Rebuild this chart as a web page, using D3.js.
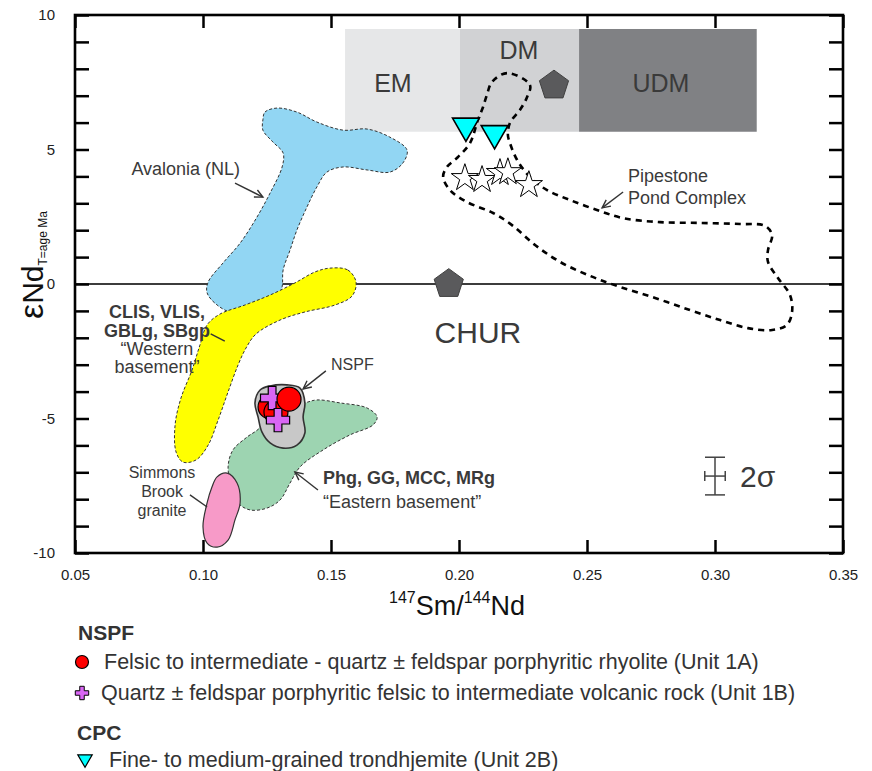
<!DOCTYPE html>
<html><head><meta charset="utf-8">
<script src="https://cdn.jsdelivr.net/npm/d3@7"></script>
<style>
body{margin:0;background:#fff;}
svg{display:block;font-family:Arial,"Liberation Sans",Helvetica,sans-serif;}
</style></head><body>
<svg id="chart" width="872" height="771"></svg>
<script>
// ---- axis ticks ----
const xTickValues = [0.05, 0.10, 0.15, 0.20, 0.25, 0.30, 0.35];
const yTickValues = d3.range(-10, 11, 1);
const yLabelValues = [-10, -5, 0, 5, 10];

// ---- mantle reservoir bands (147Sm/144Nd range, eNd range) ----
const reservoirNames = ["EM", "DM", "UDM"];
const reservoirX0 = [0.1555, 0.2004, 0.2469];
const reservoirX1 = [0.2004, 0.2469, 0.3163];
const reservoirY0 = [5.66, 5.66, 5.66];
const reservoirY1 = [9.48, 9.48, 9.48];
const reservoirLabelX = [0.1742, 0.2234, 0.2789];
const reservoirLabelY = [7.47, 8.70, 7.47];

// ---- reference reservoirs (pentagons) ----
const churPoint = [0.1960, 0.0];
const dmPoint = [0.2371, 7.38];

// ---- compiled fields: [147Sm/144Nd, eNd] outlines ----
const avaloniaField = [[0.1234,6.10],[0.1242,6.39],[0.1289,6.54],[0.1367,6.39],[0.1445,6.02],[0.1547,5.72],[0.1641,5.76],[0.1730,5.46],[0.1797,4.98],[0.1781,4.50],[0.1730,4.16],[0.1641,4.24],[0.1547,4.35],[0.1484,4.16],[0.1445,3.61],[0.1406,2.86],[0.1367,2.01],[0.1340,1.26],[0.1313,0.52],[0.1309,-0.11],[0.1289,-0.59],[0.1262,-0.78],[0.1195,-1.04],[0.1117,-1.08],[0.1055,-0.78],[0.1016,-0.33],[0.1020,0.07],[0.1078,0.78],[0.1145,1.52],[0.1211,2.49],[0.1262,3.38],[0.1309,4.35],[0.1313,4.87],[0.1273,5.28],[0.1234,5.72]];
const westernBasementField = [[0.1496,0.59],[0.1566,0.52],[0.1598,0.07],[0.1582,-0.45],[0.1516,-0.78],[0.1398,-1.04],[0.1301,-1.34],[0.1207,-1.86],[0.1168,-2.38],[0.1137,-3.01],[0.1098,-4.01],[0.1059,-5.06],[0.1020,-5.99],[0.0973,-6.54],[0.0922,-6.62],[0.0895,-6.25],[0.0891,-5.24],[0.0914,-4.24],[0.0957,-3.20],[0.0988,-2.27],[0.1016,-1.52],[0.1066,-1.12],[0.1164,-0.78],[0.1262,-0.41],[0.1359,0.04],[0.1438,0.45]];
const easternBasementField = [[0.1398,-4.42],[0.1445,-4.31],[0.1535,-4.42],[0.1641,-4.61],[0.1680,-4.94],[0.1664,-5.24],[0.1574,-5.61],[0.1469,-6.17],[0.1379,-6.80],[0.1340,-7.40],[0.1301,-8.03],[0.1250,-8.33],[0.1184,-8.40],[0.1137,-8.14],[0.1113,-7.55],[0.1098,-6.80],[0.1117,-6.17],[0.1172,-5.69],[0.1223,-5.32],[0.1230,-4.87]];
const simmonsBrookField = [[0.1055,-7.17],[0.1094,-7.03],[0.1133,-7.40],[0.1145,-8.14],[0.1125,-8.77],[0.1098,-9.52],[0.1055,-9.78],[0.1016,-9.63],[0.1000,-9.03],[0.1016,-8.14],[0.1035,-7.55]];
const nspfField = [[0.1203,-4.42],[0.1223,-3.94],[0.1262,-3.79],[0.1328,-3.75],[0.1379,-3.87],[0.1398,-4.42],[0.1391,-4.94],[0.1398,-5.54],[0.1367,-5.99],[0.1313,-6.10],[0.1262,-5.91],[0.1230,-5.50],[0.1215,-4.94]];
const pipestoneField = [[0.2188,7.84],[0.2277,7.40],[0.2266,6.95],[0.2238,6.47],[0.2199,5.99],[0.2191,5.54],[0.2199,5.24],[0.2227,4.61],[0.2277,3.98],[0.2344,3.49],[0.2434,3.12],[0.2539,2.75],[0.2641,2.45],[0.2785,2.30],[0.2941,2.27],[0.3098,2.23],[0.3195,2.16],[0.3223,1.82],[0.3207,1.26],[0.3207,0.82],[0.3246,0.22],[0.3293,-0.41],[0.3301,-1.04],[0.3281,-1.52],[0.3223,-1.71],[0.3129,-1.64],[0.3020,-1.34],[0.2902,-0.97],[0.2766,-0.52],[0.2629,-0.11],[0.2512,0.30],[0.2395,0.82],[0.2297,1.45],[0.2207,2.19],[0.2133,2.64],[0.2031,3.05],[0.1965,3.49],[0.1938,3.98],[0.1953,4.35],[0.1996,4.72],[0.2043,5.24],[0.2074,6.10],[0.2094,6.58],[0.2109,7.03],[0.2129,7.51]];

// ---- samples ----
const unit1A = [[0.1262,-4.57],[0.1285,-4.76],[0.1336,-4.28]];
const unit1B = [[0.1270,-4.24],[0.1293,-5.06]];
const unit2B = [[0.2027,5.88],[0.2139,5.60]];
const pipestoneSamples = [[0.2023,3.94],[0.2090,3.87],[0.2160,4.13],[0.2191,4.16],[0.2273,3.68]];

// ---- analytical uncertainty (2 sigma) ----
const errorCentre = [0.300, -7.14];
const errorHalf = [0.004, 0.70];

// ---- legend ----
const legendGroups = ["NSPF", "CPC"];
const legendItems = [
  "Felsic to intermediate - quartz \u00b1 feldspar porphyritic rhyolite (Unit 1A)",
  "Quartz \u00b1 feldspar porphyritic felsic to intermediate volcanic rock (Unit 1B)",
  "Fine- to medium-grained trondhjemite (Unit 2B)"
];

const svg = d3.select("#chart");
const L = 75, R = 843, T = 15, B = 553;
const x = d3.scaleLinear().domain([0.05, 0.35]).range([L, R]);
const y = d3.scaleLinear().domain([-10, 10]).range([B, T]);
const textCol = "#3a3a3a";

// reservoir bands
const resCols = ["#e6e7e8", "#d1d2d4", "#808184"];
svg.append("g").selectAll("rect").data(reservoirNames).join("rect")
  .attr("x", (d, i) => x(reservoirX0[i]))
  .attr("width", (d, i) => x(reservoirX1[i]) - x(reservoirX0[i]))
  .attr("y", (d, i) => y(reservoirY1[i]))
  .attr("height", (d, i) => y(reservoirY0[i]) - y(reservoirY1[i]))
  .attr("fill", (d, i) => resCols[i]);
svg.append("g").selectAll("text").data(reservoirNames).join("text")
  .attr("x", (d, i) => x(reservoirLabelX[i]))
  .attr("y", (d, i) => y(reservoirLabelY[i]))
  .attr("dy", "0.36em").attr("text-anchor", "middle")
  .attr("font-size", 25).attr("fill", "#3a3a3a").text(d => d);

// CHUR line
svg.append("line").attr("x1", L).attr("x2", R).attr("y1", y(0)).attr("y2", y(0))
  .attr("stroke", "#3c3c3c").attr("stroke-width", 2);

const outline = d3.line().x(d => x(d[0])).y(d => y(d[1])).curve(d3.curveCatmullRomClosed.alpha(0.5));

function field(pts, fill, dashed, sw) {
  svg.append("path").attr("d", outline(pts)).attr("fill", fill)
    .attr("stroke", "#333").attr("stroke-width", sw || 1)
    .attr("stroke-dasharray", dashed ? "3,2" : null);
}
field(avaloniaField, "#92d6f3", true);
field(westernBasementField, "#ffff00", true);
field(easternBasementField, "#9dd4b1", true);
field(simmonsBrookField, "#f79ac8", false, 1.2);
field(nspfField, "#c8c8c8", false, 1.6);

// Pipestone Pond Complex envelope
svg.append("path").attr("d", outline(pipestoneField)).attr("fill", "none")
  .attr("stroke", "#000").attr("stroke-width", 2.6).attr("stroke-dasharray", "6,5");

// pentagon symbol
const symbolPentagon = {
  draw(ctx, size) {
    const r = Math.sqrt(size / (2.5 * Math.sin(2 * Math.PI / 5)));
    for (let i = 0; i < 5; i++) {
      const a = -Math.PI / 2 + i * 2 * Math.PI / 5;
      const px = r * Math.cos(a), py = r * Math.sin(a);
      if (i === 0) ctx.moveTo(px, py); else ctx.lineTo(px, py);
    }
    ctx.closePath();
  }
};
svg.append("g").selectAll("path").data([churPoint, dmPoint]).join("path")
  .attr("transform", d => `translate(${x(d[0])},${y(d[1])})`)
  .attr("d", d3.symbol(symbolPentagon, 560))
  .attr("fill", "#5a5a5c").attr("stroke", "#404040").attr("stroke-width", 1);

// Pipestone samples
svg.append("g").selectAll("path").data(pipestoneSamples).join("path")
  .attr("transform", d => `translate(${x(d[0])},${y(d[1])})`)
  .attr("d", d3.symbol(d3.symbolStar, 230))
  .attr("fill", "#fff").attr("stroke", "#000").attr("stroke-width", 1);

// Unit 2B
svg.append("g").selectAll("path").data(unit2B).join("path")
  .attr("transform", d => `translate(${x(d[0])},${y(d[1])}) rotate(180)`)
  .attr("d", d3.symbol(d3.symbolTriangle, 310))
  .attr("fill", "#00ffff").attr("stroke", "#000").attr("stroke-width", 1.6);

// NSPF samples
const g1 = svg.append("g");
g1.selectAll("circle.a").data(unit1A.slice(0, 2)).join("circle").attr("class", "a")
  .attr("cx", d => x(d[0])).attr("cy", d => y(d[1])).attr("r", 12)
  .attr("fill", "#ff0000").attr("stroke", "#000").attr("stroke-width", 1.2);
g1.selectAll("path.b").data(unit1B).join("path").attr("class", "b")
  .attr("transform", d => `translate(${x(d[0])},${y(d[1])})`)
  .attr("d", d3.symbol(d3.symbolCross, 300))
  .attr("fill", "#d966f4").attr("stroke", "#000").attr("stroke-width", 1.2);
g1.selectAll("circle.c").data(unit1A.slice(2)).join("circle").attr("class", "c")
  .attr("cx", d => x(d[0])).attr("cy", d => y(d[1])).attr("r", 12)
  .attr("fill", "#ff0000").attr("stroke", "#000").attr("stroke-width", 1.2);

// annotation arrows
function arrow(x1, y1, x2, y2, head) {
  const X1 = x(x1), Y1 = y(y1), X2 = x(x2), Y2 = y(y2);
  const g = svg.append("g").attr("stroke", "#333").attr("stroke-width", 1.4).attr("fill", "none");
  g.append("line").attr("x1", X1).attr("y1", Y1).attr("x2", X2).attr("y2", Y2);
  if (head) {
    const a = Math.atan2(Y2 - Y1, X2 - X1), s = 9, w = 0.45;
    g.append("path").attr("d",
      `M${X2 - s * Math.cos(a - w)},${Y2 - s * Math.sin(a - w)}L${X2},${Y2}L${X2 - s * Math.cos(a + w)},${Y2 - s * Math.sin(a + w)}`);
  }
}
function label(lines, xv, yv, anchor, size, weights, step) {
  const t = svg.append("text").attr("text-anchor", anchor).attr("fill", textCol).attr("font-size", size);
  lines.forEach((s, i) => {
    t.append("tspan").attr("x", x(xv)).attr("y", y(yv) + i * step).attr("dy", "0.36em")
      .attr("font-weight", weights ? weights[i] : "normal").text(s);
  });
}
arrow(0.1125, 3.75, 0.1234, 3.23, true);
label(["Avalonia (NL)"], 0.1145, 4.28, "end", 18, null, 0);

arrow(0.1030, -1.85, 0.1085, -2.12, false);
label(["CLIS, VLIS,", "GBLg, SBgp", "\u201cWestern", "basement\u201d"], 0.0820, -1.04, "middle", 18,
  ["bold", "bold", "normal", "normal"], 18.3);

arrow(0.1480, -3.23, 0.1391, -3.90, true);
label(["NSPF"], 0.1500, -2.97, "start", 16, null, 0);

arrow(0.1449, -7.66, 0.1359, -6.99, true);
label(["Phg, GG, MCC, MRg", "\u201cEastern basement\u201d"], 0.1469, -7.21, "start", 18, ["bold", "normal"], 24);

arrow(0.0949, -7.84, 0.1016, -8.29, false);
label(["Simmons", "Brook", "granite"], 0.0840, -6.99, "middle", 16, null, 19);

arrow(0.2641, 3.42, 0.2559, 2.83, true);
label(["Pipestone", "Pond Complex"], 0.2660, 4.05, "start", 18, null, 22);

label(["CHUR"], 0.2074, -1.78, "middle", 30, null, 0);

// 2 sigma error bar
const eb = svg.append("g").attr("stroke", "#444").attr("stroke-width", 1.5);
const ex = x(errorCentre[0]), ey = y(errorCentre[1]);
eb.append("line").attr("x1", ex).attr("x2", ex).attr("y1", y(errorCentre[1] + errorHalf[1])).attr("y2", y(errorCentre[1] - errorHalf[1]));
eb.append("line").attr("x1", ex - 10).attr("x2", ex + 10).attr("y1", y(errorCentre[1] + errorHalf[1])).attr("y2", y(errorCentre[1] + errorHalf[1]));
eb.append("line").attr("x1", ex - 10).attr("x2", ex + 10).attr("y1", y(errorCentre[1] - errorHalf[1])).attr("y2", y(errorCentre[1] - errorHalf[1]));
eb.append("line").attr("x1", x(errorCentre[0] - errorHalf[0])).attr("x2", x(errorCentre[0] + errorHalf[0])).attr("y1", ey).attr("y2", ey);
eb.append("line").attr("x1", x(errorCentre[0] - errorHalf[0])).attr("x2", x(errorCentre[0] - errorHalf[0])).attr("y1", ey - 5).attr("y2", ey + 5);
eb.append("line").attr("x1", x(errorCentre[0] + errorHalf[0])).attr("x2", x(errorCentre[0] + errorHalf[0])).attr("y1", ey - 5).attr("y2", ey + 5);
svg.append("text").attr("x", ex + 25).attr("y", ey).attr("dy", "0.36em").attr("font-size", 30)
  .attr("fill", textCol).text("2\u03c3");

// axes
function styleAxis(g) {
  g.select(".domain").remove();
  g.selectAll(".tick line").attr("stroke", "#000").attr("stroke-width", 2.5);
  g.selectAll(".tick text").attr("fill", "#222").attr("font-size", 15)
    .attr("font-family", "Arial, 'Liberation Sans', sans-serif");
}
svg.append("g").attr("transform", `translate(0,${B})`)
  .call(d3.axisBottom(x).tickValues(xTickValues).tickSize(-13).tickPadding(16).tickFormat(d3.format(".2f")))
  .call(styleAxis);
svg.append("g").attr("transform", `translate(0,${T})`)
  .call(d3.axisTop(x).tickValues(xTickValues).tickSize(-13).tickFormat(""))
  .call(styleAxis);
svg.append("g").attr("transform", `translate(${L},0)`)
  .call(d3.axisLeft(y).tickValues(yTickValues).tickSize(-14).tickPadding(20)
    .tickFormat(d => yLabelValues.includes(d) ? String(d) : ""))
  .call(styleAxis);
svg.append("g").attr("transform", `translate(${R},0)`)
  .call(d3.axisRight(y).tickValues(yTickValues).tickSize(-14).tickFormat(""))
  .call(styleAxis);
svg.append("rect").attr("x", L).attr("y", T).attr("width", R - L).attr("height", B - T)
  .attr("fill", "none").attr("stroke", "#000").attr("stroke-width", 2.6);

// axis titles
const xt = svg.append("text").attr("x", (L + R) / 2 - 2).attr("y", 615).attr("text-anchor", "middle")
  .attr("fill", "#111").attr("font-size", 27);
xt.append("tspan").attr("font-size", 16).attr("dy", -12).text("147");
xt.append("tspan").attr("dy", 12).text("Sm/");
xt.append("tspan").attr("font-size", 16).attr("dy", -12).text("144");
xt.append("tspan").attr("dy", 12).text("Nd");

const yt = svg.append("text").attr("transform", "translate(43,319) rotate(-90)")
  .attr("fill", "#111").attr("font-size", 30);
yt.append("tspan").attr("font-size", 34).text("\u03b5");
yt.append("tspan").text("Nd");
yt.append("tspan").attr("font-size", 12).attr("dy", 4).text("T=age Ma");

// legend
const lg = svg.append("g").attr("fill", "#333");
lg.append("text").attr("x", 78).attr("y", 640).attr("font-size", 21).attr("font-weight", "bold").text(legendGroups[0]);
lg.append("text").attr("x", 77).attr("y", 740).attr("font-size", 21).attr("font-weight", "bold").text(legendGroups[1]);
lg.append("circle").attr("cx", 82).attr("cy", 662).attr("r", 6.5).attr("fill", "#ff0000").attr("stroke", "#000").attr("stroke-width", 1.2);
lg.append("path").attr("transform", "translate(82,693)").attr("d", d3.symbol(d3.symbolCross, 100))
  .attr("fill", "#d966f4").attr("stroke", "#000").attr("stroke-width", 1);
lg.append("path").attr("transform", "translate(85,759) rotate(180)").attr("d", d3.symbol(d3.symbolTriangle, 90))
  .attr("fill", "#00ffff").attr("stroke", "#000").attr("stroke-width", 1.2);
const legendX = [104, 101, 109];
const legendY = [669, 700, 767];
lg.selectAll("text.item").data(legendItems).join("text").attr("class", "item")
  .attr("x", (d, i) => legendX[i]).attr("y", (d, i) => legendY[i])
  .attr("font-size", 21.5).text(d => d);
</script>
</body></html>
